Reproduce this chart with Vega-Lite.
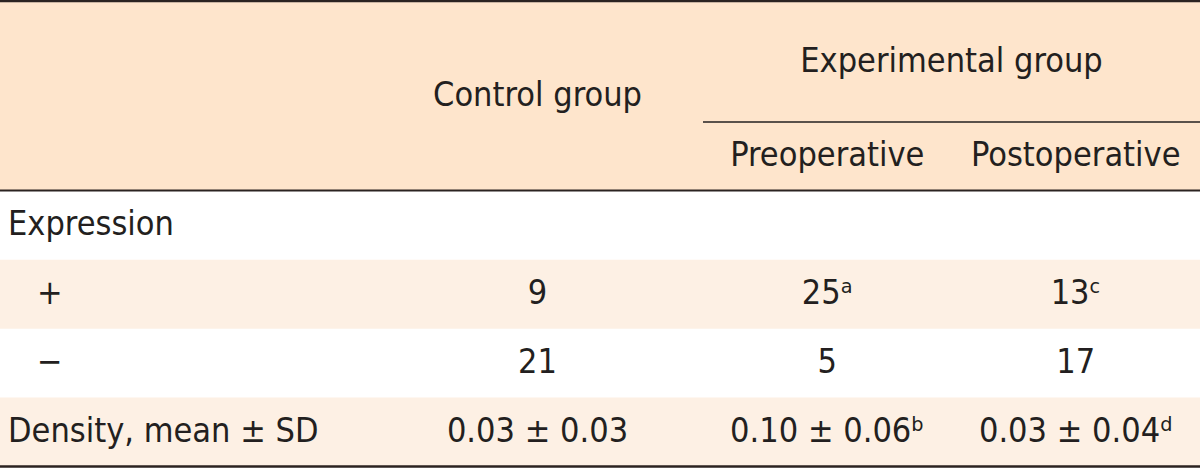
{
  "$schema": "https://vega.github.io/schema/vega-lite/v6.json",
  "width": 1200,
  "height": 468,
  "padding": 0,
  "autosize": {"type": "none"},
  "background": "#ffffff",
  "config": {"view": {"stroke": null}},
  "data": {
    "values": [
      {"part": "span", "row": "header", "col": "Control", "text": "Control group"},
      {"part": "top", "row": "top", "col": "Experimental", "from": "Pre", "to": "Post", "text": "Experimental group"},
      {"part": "body", "row": "sub", "col": "Pre", "text": "Preoperative"},
      {"part": "body", "row": "sub", "col": "Post", "text": "Postoperative"},
      {"part": "body", "row": "Expression", "col": "Label", "level": 0, "text": "Expression"},
      {"part": "body", "row": "+", "col": "Label", "level": 1, "text": "+"},
      {"part": "body", "row": "−", "col": "Label", "level": 1, "text": "−"},
      {"part": "body", "row": "Density", "col": "Label", "level": 0, "text": "Density, mean ± SD"},
      {"part": "body", "row": "+", "col": "Control", "text": "9"},
      {"part": "body", "row": "+", "col": "Pre", "text": "25ᵃ"},
      {"part": "body", "row": "+", "col": "Post", "text": "13ᶜ"},
      {"part": "body", "row": "−", "col": "Control", "text": "21"},
      {"part": "body", "row": "−", "col": "Pre", "text": "5"},
      {"part": "body", "row": "−", "col": "Post", "text": "17"},
      {"part": "body", "row": "Density", "col": "Control", "text": "0.03 ± 0.03"},
      {"part": "body", "row": "Density", "col": "Pre", "text": "0.10 ± 0.06ᵇ"},
      {"part": "body", "row": "Density", "col": "Post", "text": "0.03 ± 0.04ᵈ"}
    ]
  },
  "resolve": {"scale": {"x": "independent", "y": "independent"}},
  "layer": [
    {
      "transform": [{"filter": "datum.part === 'span'"}],
      "mark": {"type": "rect", "color": "#fee5cc"},
      "encoding": {
        "y": {"field": "row", "type": "nominal", "axis": null,
              "scale": {"type": "band", "domain": ["header"], "range": [1, 190.5], "paddingInner": 0, "paddingOuter": 0}}
      }
    },
    {
      "transform": [{"filter": "datum.col === 'Label' && (datum.row === '+' || datum.row === 'Density')"}],
      "mark": {"type": "rect", "color": "#fdf0e4"},
      "encoding": {
        "y": {"field": "row", "type": "nominal", "axis": null,
              "scale": {"type": "band", "domain": ["sub", "Expression", "+", "−", "Density"], "range": [122, 466.5], "paddingInner": 0, "paddingOuter": 0}}
      }
    },
    {
      "transform": [{"filter": "datum.part === 'span'"}],
      "mark": {"type": "rule", "color": "#2b2321", "strokeWidth": 2.5},
      "encoding": {
        "y": {"field": "row", "type": "nominal", "axis": null, "bandPosition": 0,
              "scale": {"type": "band", "domain": ["header"], "range": [1, 190.5], "paddingInner": 0, "paddingOuter": 0}}
      }
    },
    {
      "transform": [{"filter": "datum.part === 'span'"}],
      "mark": {"type": "rule", "color": "#2b2321", "strokeWidth": 2},
      "encoding": {
        "y": {"field": "row", "type": "nominal", "axis": null, "bandPosition": 1,
              "scale": {"type": "band", "domain": ["header"], "range": [1, 190.5], "paddingInner": 0, "paddingOuter": 0}}
      }
    },
    {
      "transform": [{"filter": "datum.col === 'Label' && datum.row === 'Density'"}],
      "mark": {"type": "rule", "color": "#2b2321", "strokeWidth": 2.5},
      "encoding": {
        "y": {"field": "row", "type": "nominal", "axis": null, "bandPosition": 1,
              "scale": {"type": "band", "domain": ["sub", "Expression", "+", "−", "Density"], "range": [122, 466.5], "paddingInner": 0, "paddingOuter": 0}}
      }
    },
    {
      "transform": [{"filter": "datum.part === 'top'"}],
      "mark": {"type": "rule", "color": "#231f20", "strokeWidth": 1.6},
      "encoding": {
        "x": {"field": "from", "type": "nominal", "axis": null,
              "scale": {"type": "point", "domain": ["Pre", "Post"], "range": [703, 1200], "padding": 0}},
        "x2": {"field": "to"},
        "y": {"field": "row", "type": "nominal", "axis": null, "bandPosition": 1,
              "scale": {"type": "band", "domain": ["top"], "range": [1, 122], "paddingInner": 0, "paddingOuter": 0}}
      }
    },
    {
      "transform": [{"filter": "datum.part === 'span'"}],
      "mark": {"type": "text", "font": "DejaVu Sans Condensed, Roboto, sans-serif", "fontSize": 34, "fill": "#231f20", "align": "center", "baseline": "middle"},
      "encoding": {
        "x": {"field": "col", "type": "nominal", "axis": null,
              "scale": {"type": "band", "domain": ["Control"], "range": [395, 680], "paddingInner": 0, "paddingOuter": 0}},
        "y": {"field": "row", "type": "nominal", "axis": null,
              "scale": {"type": "band", "domain": ["header"], "range": [1, 190.5], "paddingInner": 0, "paddingOuter": 0}},
        "text": {"field": "text"}
      }
    },
    {
      "transform": [{"filter": "datum.part === 'top'"}],
      "mark": {"type": "text", "font": "DejaVu Sans Condensed, Roboto, sans-serif", "fontSize": 34, "fill": "#231f20", "align": "center", "baseline": "middle"},
      "encoding": {
        "x": {"field": "col", "type": "nominal", "axis": null,
              "scale": {"type": "band", "domain": ["Experimental"], "range": [703, 1200], "paddingInner": 0, "paddingOuter": 0}},
        "y": {"field": "row", "type": "nominal", "axis": null,
              "scale": {"type": "band", "domain": ["top"], "range": [1, 122], "paddingInner": 0, "paddingOuter": 0}},
        "text": {"field": "text"}
      }
    },
    {
      "transform": [{"filter": "datum.part === 'body' && (datum.col === 'Pre' || datum.col === 'Post')"}],
      "mark": {"type": "text", "font": "DejaVu Sans Condensed, Roboto, sans-serif", "fontSize": 34, "fill": "#231f20", "align": "center", "baseline": "middle"},
      "encoding": {
        "x": {"field": "col", "type": "nominal", "axis": null,
              "scale": {"type": "band", "domain": ["Pre", "Post"], "range": [703, 1200], "paddingInner": 0, "paddingOuter": 0}},
        "y": {"field": "row", "type": "nominal", "axis": null,
              "scale": {"type": "band", "domain": ["sub", "Expression", "+", "−", "Density"], "range": [122, 466.5], "paddingInner": 0, "paddingOuter": 0}},
        "text": {"field": "text"}
      }
    },
    {
      "transform": [{"filter": "datum.part === 'body' && datum.col === 'Control'"}],
      "mark": {"type": "text", "font": "DejaVu Sans Condensed, Roboto, sans-serif", "fontSize": 34, "fill": "#231f20", "align": "center", "baseline": "middle"},
      "encoding": {
        "x": {"field": "col", "type": "nominal", "axis": null,
              "scale": {"type": "band", "domain": ["Control"], "range": [395, 680], "paddingInner": 0, "paddingOuter": 0}},
        "y": {"field": "row", "type": "nominal", "axis": null,
              "scale": {"type": "band", "domain": ["sub", "Expression", "+", "−", "Density"], "range": [122, 466.5], "paddingInner": 0, "paddingOuter": 0}},
        "text": {"field": "text"}
      }
    },
    {
      "transform": [{"filter": "datum.col === 'Label' && datum.level === 0"}],
      "mark": {"type": "text", "font": "DejaVu Sans Condensed, Roboto, sans-serif", "fontSize": 34, "fill": "#231f20", "align": "left", "baseline": "middle"},
      "encoding": {
        "x": {"field": "col", "type": "nominal", "axis": null, "bandPosition": 0,
              "scale": {"type": "band", "domain": ["Label"], "range": [8, 395], "paddingInner": 0, "paddingOuter": 0}},
        "y": {"field": "row", "type": "nominal", "axis": null,
              "scale": {"type": "band", "domain": ["sub", "Expression", "+", "−", "Density"], "range": [122, 466.5], "paddingInner": 0, "paddingOuter": 0}},
        "text": {"field": "text"}
      }
    },
    {
      "transform": [{"filter": "datum.col === 'Label' && datum.level === 1"}],
      "mark": {"type": "text", "font": "DejaVu Sans Condensed, Roboto, sans-serif", "fontSize": 34, "fill": "#231f20", "align": "left", "baseline": "middle"},
      "encoding": {
        "x": {"field": "col", "type": "nominal", "axis": null, "bandPosition": 0,
              "scale": {"type": "band", "domain": ["Label"], "range": [37, 395], "paddingInner": 0, "paddingOuter": 0}},
        "y": {"field": "row", "type": "nominal", "axis": null,
              "scale": {"type": "band", "domain": ["sub", "Expression", "+", "−", "Density"], "range": [122, 466.5], "paddingInner": 0, "paddingOuter": 0}},
        "text": {"field": "text"}
      }
    }
  ]
}
